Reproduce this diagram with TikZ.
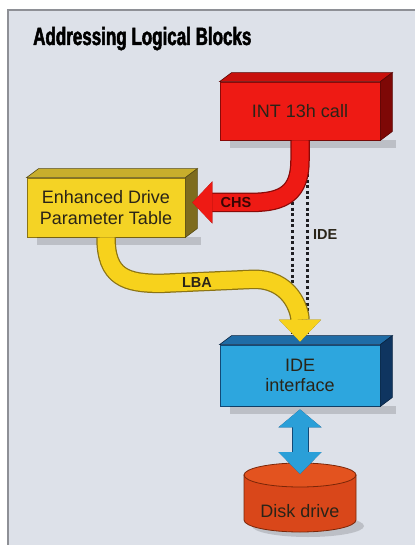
\documentclass[tikz,border=0pt]{standalone}
\usepackage{fontspec}
\setmainfont{Liberation Sans}
\newfontfamily\titlefont[FakeStretch=0.68,FakeBold=2]{Liberation Sans}
\usetikzlibrary{arrows.meta, positioning, calc}
\definecolor{panel}{HTML}{DDE1E9}
\definecolor{framegray}{HTML}{8E9096}
\definecolor{redfront}{HTML}{EE1A14}
\definecolor{redtop}{HTML}{C8100C}
\definecolor{redside}{HTML}{7E0806}
\definecolor{reddark}{HTML}{8A0A08}
\definecolor{yelfront}{HTML}{F4D325}
\definecolor{yeltop}{HTML}{C8AE2C}
\definecolor{yelside}{HTML}{7E6C1E}
\definecolor{yeldark}{HTML}{8C7414}
\definecolor{yelarrow}{HTML}{F7D21C}
\definecolor{bluefront}{HTML}{2DA6DE}
\definecolor{bluetop}{HTML}{1F6CA6}
\definecolor{blueside}{HTML}{0F3560}
\definecolor{bluedark}{HTML}{114A78}
\definecolor{bluearrow}{HTML}{2A9FD8}
\definecolor{diskbody}{HTML}{D9471A}
\definecolor{disktop}{HTML}{E3531F}
\definecolor{diskline}{HTML}{7A2608}
\definecolor{boxtext}{HTML}{2A2418}
\definecolor{chstext}{HTML}{3A0604}
\definecolor{dotgray}{HTML}{1E1E22}

\begin{document}
\begin{tikzpicture}[x=1pt, y=-1pt, font=\fontsize{18}{20.5}\selectfont,
  block/.style={draw=#1, line width=0.8pt, minimum width=160pt, minimum height=58pt,
    align=center, inner sep=0pt, text=boxtext},
  lbl/.style={font=\fontsize{14.5}{16}\selectfont\bfseries, inner sep=1pt},
  idepath/.style={dotgray, line width=3pt, dash pattern=on 3pt off 2.6pt}]

% Background
\useasboundingbox (0,0) rectangle (415,545);
\fill[white] (0,0) rectangle (415,545);
\fill[panel] (8,10) rectangle (415,545);
\draw[framegray, line width=1.2pt] (8,545) -- (8,10) -- (415,10);

% Title
\node[font=\titlefont\bfseries\fontsize{25}{28}\selectfont, anchor=base west, inner sep=0pt]
  (title) at (33,45) {Addressing Logical Blocks};

% Blocks
\node[block=reddark, fill=redfront] (int) at (300,111) {INT 13h call};
\node[block=yeldark, fill=yelfront, minimum width=158pt, minimum height=59pt]
  (edpt) at (106,207.5) {Enhanced Drive\\Parameter Table};
\node[block=bluedark, fill=bluefront, minimum height=61pt]
  (ide) at (300,375.5) {IDE\\interface};

% Shadows, tops and sides of the blocks
\foreach \n/\tc/\sc in {int/redtop/redside, edpt/yeltop/yelside, ide/bluetop/blueside} {
  \fill[black, opacity=.15] ($(\n.south west)+(10,0)$) rectangle ($(\n.south east)+(16,8)$);
  \filldraw[fill=\tc, draw=\sc!70!black, line width=0.6pt]
    (\n.north west) -- ++(12,-9) -- ($(\n.north east)+(12,-9)$) -- (\n.north east) -- cycle;
  \filldraw[fill=\sc, draw=\sc!70!black, line width=0.6pt]
    (\n.north east) -- ++(12,-9) -- ($(\n.south east)+(12,-9)$) -- (\n.south east) -- cycle;
}

% Disk drive
\fill[black, opacity=.15] (308,526) ellipse [x radius=56pt, y radius=11pt];
\filldraw[fill=diskbody, draw=diskline, line width=0.8pt]
  (244,475) -- (244,520) arc [start angle=180, end angle=360, x radius=56pt, y radius=12pt]
  -- (356,475) -- cycle;
\filldraw[fill=disktop, draw=diskline, line width=0.8pt]
  (300,475) ellipse [x radius=56pt, y radius=12pt];
\coordinate (disktop) at (300,474);
\node[text=boxtext] (disk) at (300,511) {Disk drive};

% IDE path (dotted)
\draw[idepath] ([xshift=-8pt]int.south) -- ([xshift=-8pt,yshift=9pt]ide.north);
\draw[idepath] ([xshift=7pt]int.south) -- ([xshift=7pt,yshift=9pt]ide.north);

% CHS arrow
\foreach \lw/\col/\tw in {19.5pt/reddark/1.3pt, 17pt/redfront/0pt}
  \draw[line width=\lw, \col, -{Triangle[length=20pt, width=42pt, line width=\tw, fill=redfront]}]
    (int.south) -- ++(0,20) .. controls +(0,32) and +(32,0) .. ++(-48,42)
    -- ([xshift=7pt,yshift=5pt]edpt.east);

% LBA arrow
\foreach \lw/\col/\tw in {19.5pt/yeldark/1.3pt, 17pt/yelarrow/0pt}
  \draw[line width=\lw, \col, -{Triangle[length=22pt, width=42pt, line width=\tw, fill=yelarrow]}]
    (edpt.south) .. controls +(0,40) and +(-35,0) .. ++(55,46) -- ++(90,-4)
    .. controls +(40,-2) and +(0,-30) .. ([yshift=3pt]ide.north);

% Disk link
\foreach \lw/\col/\tw in {17pt/bluedark/1.2pt, 15pt/bluearrow/0pt}
  \draw[line width=\lw, \col,
    {Triangle[length=18pt, width=43pt, line width=\tw, fill=bluearrow]}-{Triangle[length=22pt, width=43pt, line width=\tw, fill=bluearrow]}]
    ([yshift=-3pt]ide.south) -- (disktop);

% Labels
\node[lbl, text=chstext] (chs) at (236,203) {CHS};
\node[lbl, text=boxtext] (lba) at (197,283) {LBA};
\node[lbl, text=boxtext, anchor=west] (idelbl) at (312,235) {IDE};

\end{tikzpicture}
\end{document}
